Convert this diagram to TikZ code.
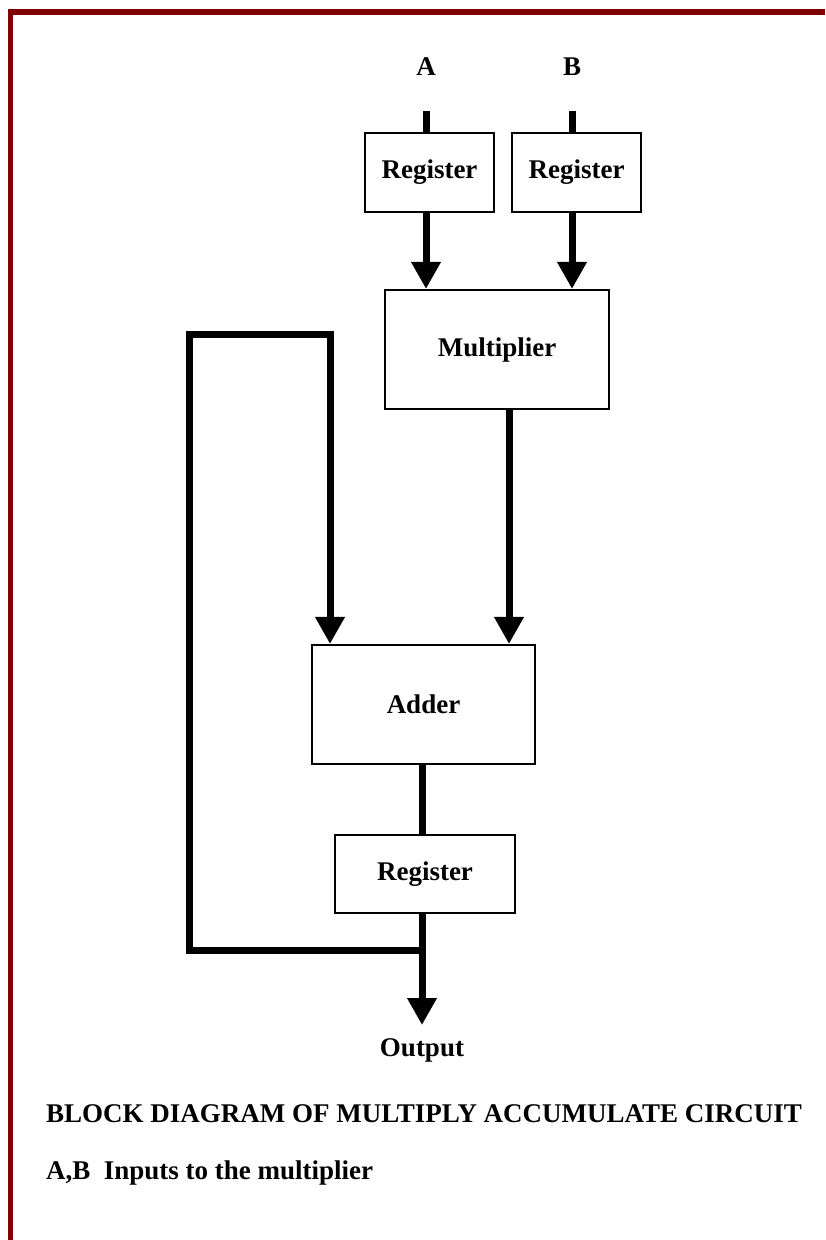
\documentclass[tikz,border=0pt]{standalone}
\usepackage{fontspec}
\setmainfont{Liberation Serif}
\usetikzlibrary{arrows.meta}
\definecolor{frame}{RGB}{128,0,0}
\begin{document}
\begin{tikzpicture}[x=1pt,y=-1pt,
    block/.style={draw,line width=1.6pt,inner sep=0pt,font=\bfseries\fontsize{27}{32}\selectfont},
    txt/.style={inner sep=0pt,font=\bfseries\fontsize{27}{32}\selectfont},
    bus/.style={line width=7pt},
    flow/.style={bus,-{Triangle[width=28pt,length=27pt]}}]
      \useasboundingbox (0,0) rectangle (825,1240);
      \fill[frame] (8,9) rectangle (825,15);
      \fill[frame] (8,9) rectangle (13,1240);
      \draw
        (426,75) node[txt,anchor=base] (lblA){A}
        (572,75) node[txt,anchor=base] (lblB){B}
        (429.5,172.5) node[block,minimum width=129.5pt,minimum height=79.5pt] (regA){Register}
        (576.5,172.5) node[block,minimum width=129.5pt,minimum height=79.5pt] (regB){Register}
        (497,349.5) node[block,minimum width=224.5pt,minimum height=119.5pt] (mult){Multiplier}
        (423.5,704.5) node[block,minimum width=223.5pt,minimum height=119.5pt] (adder){Adder}
        (425,874) node[block,minimum width=180.5pt,minimum height=78.5pt] (regOut){Register}
        (422,1056) node[txt,anchor=base] (lblOut){Output}
        (46,1122) node[txt,anchor=base west] (title){BLOCK DIAGRAM OF MULTIPLY ACCUMULATE CIRCUIT}
        (46,1179) node[txt,anchor=base west] (note){A,B\ \ Inputs to the multiplier};
      \coordinate (inA) at (426,111);
      \coordinate (inB) at (572,111);
      \coordinate (mOut) at (509,410);
      \coordinate (tap) at (422,950);
      \coordinate (loopL) at (189,334);
      \coordinate (loopR) at (330,334);
      \coordinate (outTip) at (422,1025);
      \begin{scope}[bus]
        \draw (inA) to (inA |- regA.north);
        \draw (inB) to (inB |- regB.north);
        \draw (adder.south -| tap) to (regOut.north -| tap);
      \end{scope}
      \begin{scope}[flow]
        \draw (inA |- regA.south) to (inA |- mult.north);
        \draw (inB |- regB.south) to (inB |- mult.north);
        \draw (mOut) to (mOut |- adder.north);
        \draw (tap) -| (loopL) -- (loopR) -- (loopR |- adder.north);
        \draw (regOut.south -| tap) to (outTip);
      \end{scope}
    \end{tikzpicture}
\end{document}
